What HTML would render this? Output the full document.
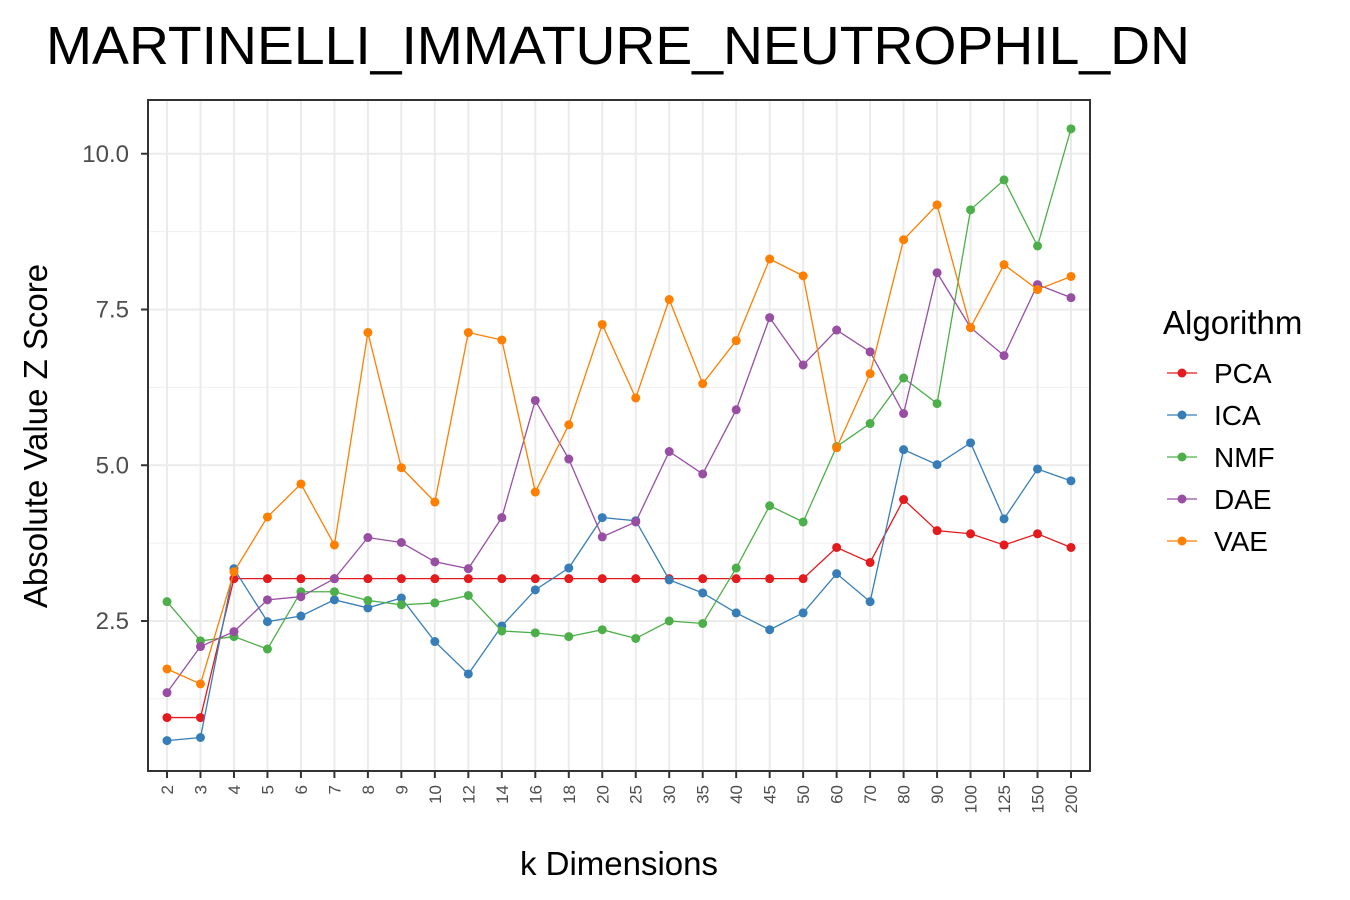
<!DOCTYPE html>
<html><head><meta charset="utf-8"><style>
html,body{margin:0;padding:0;background:#fff;}
svg{display:block;font-family:"Liberation Sans",Arial,sans-serif;}
</style></head><body>
<svg id="chart" width="1350" height="900" viewBox="0 0 1350 900">
<text x="46" y="64" font-size="54" textLength="1144" lengthAdjust="spacingAndGlyphs" fill="#000">MARTINELLI_IMMATURE_NEUTROPHIL_DN</text>
<g id="grid"></g>
<g id="series"></g>
<rect x="148" y="100" width="942" height="671" fill="none" stroke="#333" stroke-width="2"/>
<g id="axes"></g>
<text x="619" y="875" font-size="33" text-anchor="middle" fill="#000">k Dimensions</text>
<text transform="translate(47,436) rotate(-90)" font-size="33" text-anchor="middle" fill="#000">Absolute Value Z Score</text>
<g id="legend"></g>
</svg>
<script>
const categories=["2","3","4","5","6","7","8","9","10","12","14","16","18","20","25","30","35","40","45","50","60","70","80","90","100","125","150","200"];
const seriesNames=["PCA","ICA","NMF","DAE","VAE"];
const seriesColors=["#e41a1c","#377eb8","#4daf4a","#984ea3","#ff7f00"];
const pcaValues=[0.95,0.95,3.18,3.18,3.18,3.18,3.18,3.18,3.18,3.18,3.18,3.18,3.18,3.18,3.18,3.18,3.18,3.18,3.18,3.18,3.68,3.44,4.45,3.95,3.90,3.72,3.90,3.68];
const icaValues=[0.58,0.63,3.34,2.49,2.58,2.84,2.71,2.87,2.17,1.65,2.42,3.0,3.35,4.16,4.11,3.16,2.95,2.63,2.36,2.63,3.26,2.81,5.25,5.01,5.36,4.14,4.94,4.75];
const nmfValues=[2.81,2.18,2.25,2.05,2.97,2.97,2.83,2.76,2.79,2.91,2.34,2.31,2.25,2.36,2.22,2.5,2.46,3.35,4.35,4.09,5.30,5.67,6.40,5.99,9.10,9.58,8.52,10.40];
const daeValues=[1.35,2.09,2.33,2.84,2.89,3.18,3.84,3.76,3.45,3.34,4.16,6.04,5.10,3.85,4.09,5.22,4.86,5.89,7.37,6.61,7.17,6.82,5.83,8.09,7.21,6.76,7.90,7.69];
const vaeValues=[1.73,1.49,3.29,4.17,4.70,3.72,7.13,4.96,4.41,7.13,7.01,4.57,5.65,7.26,6.08,7.66,6.31,7.00,8.31,8.04,5.28,6.47,8.62,9.18,7.21,8.22,7.82,8.03];
const yTicks=[2.5,5.0,7.5,10.0];
const yTickLabels=["2.5","5.0","7.5","10.0"];
const yMinor=[1.25,3.75,6.25,8.75];

const NS="http://www.w3.org/2000/svg";
const x0=167,dx=(1071-167)/27;
function xs(i){return x0+i*dx;}
function ys(v){return 621-(v-2.5)*62.3;}
function mk(tag,attrs,parent){const e=document.createElementNS(NS,tag);for(const k in attrs)e.setAttribute(k,attrs[k]);parent.appendChild(e);return e;}
const grid=document.getElementById('grid'),axes=document.getElementById('axes'),ser=document.getElementById('series'),leg=document.getElementById('legend');
yMinor.forEach(v=>{const l=mk('line',{x1:148,x2:1090,y1:ys(v),y2:ys(v),stroke:'#f0f0f0','stroke-width':1},grid);

});
yTicks.forEach((v,i)=>{const l=mk('line',{x1:148,x2:1090,y1:ys(v),y2:ys(v),stroke:'#ebebeb','stroke-width':2},grid);


const t=mk('line',{x1:141,x2:148,y1:ys(v),y2:ys(v),stroke:'#333','stroke-width':2},axes);


const tx=mk('text',{x:129,y:ys(v)+8,'font-size':24,'text-anchor':'end',fill:'#4d4d4d'},axes);tx.textContent=yTickLabels[i];

});
categories.forEach((c,i)=>{const x=xs(i);
const l=mk('line',{x1:x,x2:x,y1:100,y2:771,stroke:'#ebebeb','stroke-width':2},grid);


const t=mk('line',{x1:x,x2:x,y1:771,y2:778,stroke:'#333','stroke-width':2},axes);


const tx=mk('text',{transform:`translate(${x+6},785) rotate(-90)`,'font-size':17,'text-anchor':'end',fill:'#4d4d4d'},axes);tx.textContent=c;

});
const allVals=[pcaValues,icaValues,nmfValues,daeValues,vaeValues];
allVals.forEach((vals,s)=>{const g=mk('g',{},ser);


const p=mk('polyline',{points:vals.map((v,i)=>xs(i)+','+ys(v)).join(' '),fill:'none',stroke:seriesColors[s],'stroke-width':1.3},g);


vals.forEach((v,i)=>{const c=mk('circle',{cx:xs(i),cy:ys(v),r:4.5,fill:seriesColors[s]},g);

});});
const lt=mk('text',{x:1163,y:334,'font-size':33,fill:'#000'},leg);lt.textContent='Algorithm';


seriesNames.forEach((n,i)=>{const y=373+i*42;const g=mk('g',{},leg);


mk('line',{x1:1167,x2:1197,y1:y,y2:y,stroke:seriesColors[i],'stroke-width':1.3},g);
mk('circle',{cx:1182,cy:y,r:4.5,fill:seriesColors[i]},g);
const t=mk('text',{x:1214,y:y+10,'font-size':28,fill:'#000'},g);t.textContent=n;});
</script>
</body></html>
